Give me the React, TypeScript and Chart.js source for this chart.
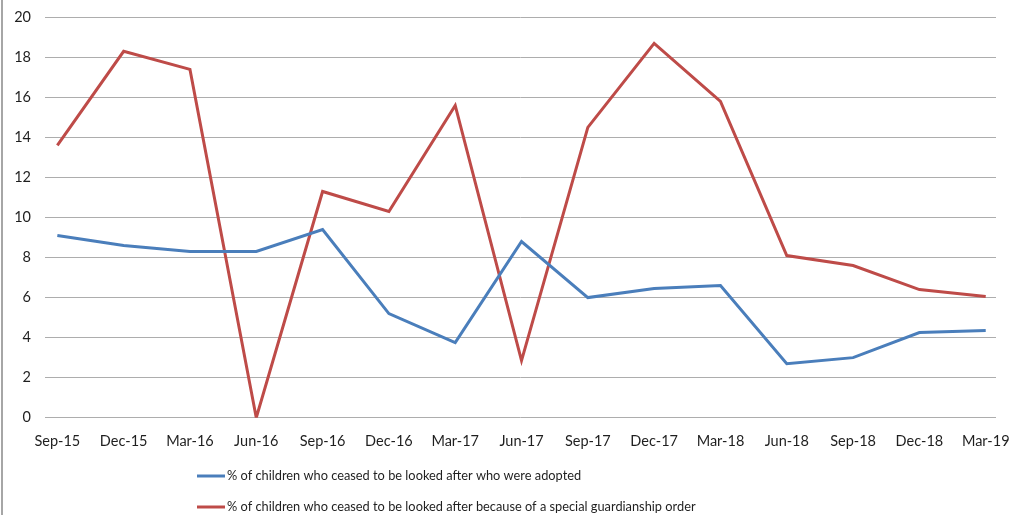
import React, { useEffect, useRef } from 'react';
import { Chart, registerables } from 'chart.js';

Chart.register(...registerables);

const categories = [
  'Sep-15', 'Dec-15', 'Mar-16', 'Jun-16', 'Sep-16', 'Dec-16', 'Mar-17', 'Jun-17',
  'Sep-17', 'Dec-17', 'Mar-18', 'Jun-18', 'Sep-18', 'Dec-18', 'Mar-19',
];

const adoptedValues = [9.1, 8.6, 8.3, 8.3, 9.4, 5.2, 3.75, 8.8, 6.0, 6.45, 6.6, 2.7, 3.0, 4.25, 4.35];

const sgoValues = [13.6, 18.3, 17.4, 0, 11.3, 10.3, 15.6, 2.85, 14.5, 18.7, 15.8, 8.1, 7.6, 6.4, 6.05];

const seriesLabels = [
  '% of children who ceased to be looked after who were adopted',
  '% of children who ceased to be looked after because of a special guardianship order',
];

const yMin = 0;
const yMax = 20;
const yStep = 2;

const FONT_FAMILY = 'Lato, "Open Sans", sans-serif';
const TICK_FONT_SIZE = 14.5;
const LEGEND_FONT_SIZE = 12.8;
const TEXT_COLOR = '#1f1f1f';
const BLUE = '#4A7EBB';
const RED = '#BE4B48';

const customLegend = {
  id: 'customLegend',
  afterDraw(chart: any) {
    const ctx = chart.ctx as CanvasRenderingContext2D;
    ctx.save();
    // left frame line
    ctx.strokeStyle = '#a6a6a6';
    ctx.lineWidth = 2;
    ctx.beginPath();
    ctx.moveTo(2, 0);
    ctx.lineTo(2, chart.height);
    ctx.stroke();

    const colors = [BLUE, RED];
    const rowsY = [476, 507];
    const lineX0 = 197;
    const lineX1 = 225;
    ctx.font = `${LEGEND_FONT_SIZE}px ${FONT_FAMILY}`;
    ctx.textBaseline = 'middle';
    ctx.textAlign = 'left';
    seriesLabels.forEach((label, i) => {
      ctx.strokeStyle = colors[i];
      ctx.lineWidth = 3;
      ctx.beginPath();
      ctx.moveTo(lineX0, rowsY[i]);
      ctx.lineTo(lineX1, rowsY[i]);
      ctx.stroke();
      ctx.fillStyle = TEXT_COLOR;
      ctx.fillText(label, lineX1 + 2, rowsY[i]);
    });
    ctx.restore();
  },
};

export default function App() {
  const canvasRef = useRef<HTMLCanvasElement | null>(null);

  useEffect(() => {
    document.body.style.margin = '0';
    const canvas = canvasRef.current;
    if (!canvas) return;
    const chart = new Chart(canvas, {
      type: 'line',
      data: {
        datasets: [
          {
            label: seriesLabels[0],
            data: adoptedValues.map((v, i) => ({ x: i, y: v })),
            borderColor: BLUE,
            backgroundColor: BLUE,
            borderWidth: 3,
            pointRadius: 0,
            tension: 0,
            fill: false,
          },
          {
            label: seriesLabels[1],
            data: sgoValues.map((v, i) => ({ x: i, y: v })),
            borderColor: RED,
            backgroundColor: RED,
            borderWidth: 3,
            pointRadius: 0,
            tension: 0,
            fill: false,
          },
        ],
      },
      options: {
        animation: false,
        responsive: false,
        devicePixelRatio: 1,
        layout: { padding: { top: 17.3, right: 16, left: 0, bottom: 0 } },
        plugins: {
          legend: { display: false },
          tooltip: { enabled: false },
        },
        scales: {
          x: {
            type: 'linear',
            min: -0.186,
            max: categories.length - 1 + 0.155,
            afterBuildTicks: (scale: any) => {
              scale.ticks = categories.map((_, i) => ({ value: i }));
            },
            afterFit: (scale: any) => {
              scale.height = 97.3;
              scale.paddingLeft = 0;
              scale.paddingRight = 0;
            },
            grid: { display: false },
            border: { display: false },
            ticks: {
              autoSkip: false,
              maxRotation: 0,
              padding: 7,
              color: TEXT_COLOR,
              font: { family: FONT_FAMILY, size: TICK_FONT_SIZE },
              callback: (value: any) => categories[Math.round(Number(value))] ?? '',
            },
          },
          y: {
            min: yMin,
            max: yMax,
            afterFit: (scale: any) => {
              scale.width = 45;
              scale.paddingTop = 0;
              scale.paddingBottom = 0;
            },
            grid: { color: '#adadad', lineWidth: 1, drawTicks: false },
            border: { display: false },
            ticks: {
              stepSize: yStep,
              padding: 14,
              color: TEXT_COLOR,
              font: { family: FONT_FAMILY, size: TICK_FONT_SIZE },
            },
          },
        },
      },
      plugins: [customLegend],
    });
    return () => chart.destroy();
  }, []);

  return (
    <div style={{ width: 1012, height: 515, background: '#fff' }}>
      <canvas ref={canvasRef} width={1012} height={515} style={{ display: 'block', width: 1012, height: 515 }} />
    </div>
  );
}
